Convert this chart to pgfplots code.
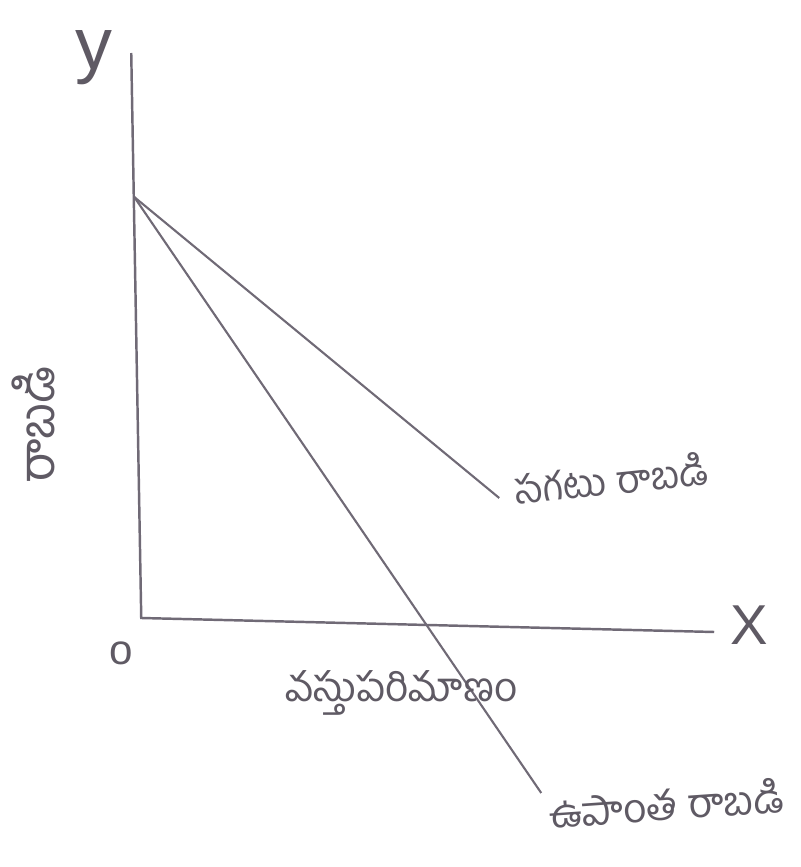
\documentclass[border=0pt]{standalone}
\usepackage{fontspec}
\usepackage{pgfplots}
\pgfplotsset{compat=1.18}
\newfontfamily\telugu[Script=Telugu]{Hind Guntur}
\setmainfont{Liberation Sans}
\definecolor{pencil}{RGB}{112,106,118}
\definecolor{ink}{RGB}{95,90,100}

\begin{document}
\begin{tikzpicture}
\begin{axis}[
    scale only axis,
    width=7.99cm, height=8.67cm,
    xmin=-140, xmax=659,
    ymin=-249, ymax=618,
    hide axis,
    clip=false,
  ]
  % invisible frame so the page keeps the reference size
  \path (rel axis cs:0,0) rectangle (rel axis cs:1,1);

  % axes
  \draw[pencil, line width=0.7pt] (axis cs:-10,565) -- (axis cs:0,0) -- (axis cs:573,-14);

  % average revenue
  \addplot[pencil, line width=0.6pt, mark=none] coordinates {(-7,421) (358,120)};
  % marginal revenue
  \addplot[pencil, line width=0.6pt, mark=none] coordinates {(-7,421) (400,-175)};

  % labels
  \node[ink, font=\fontsize{21}{24}\selectfont] at (axis cs:-47,560) {y};
  \node[ink, font=\fontsize{16}{19}\selectfont] at (axis cs:608,-7) {X};
  \node[ink, font=\fontsize{12}{14}\selectfont] at (axis cs:-20,-35) {o};
  \node[ink, font=\telugu\fontsize{11}{13}\selectfont, rotate=6] at (axis cs:470,140) {సగటు రాబడి};
  \node[ink, font=\telugu\fontsize{11.5}{14}\selectfont, rotate=4] at (axis cs:525,-185) {ఉపాంత రాబడి};
  \node[ink, font=\telugu\fontsize{11.5}{14}\selectfont] at (axis cs:260,-75) {వస్తుపరిమాణం};
  \node[ink, font=\telugu\fontsize{14}{17}\selectfont, rotate=90] at (axis cs:-108,193) {రాబడి};
\end{axis}
\end{tikzpicture}
\end{document}
